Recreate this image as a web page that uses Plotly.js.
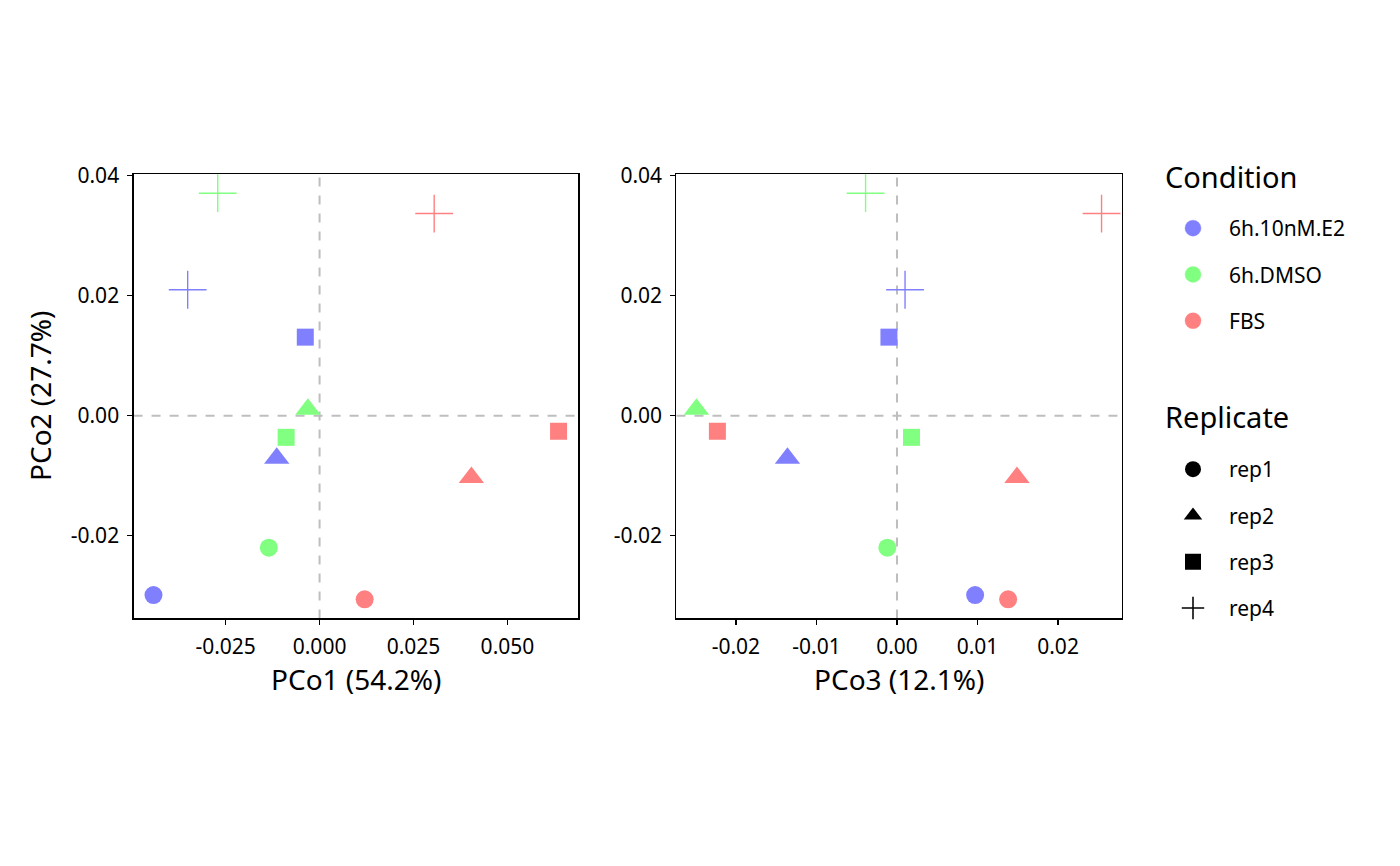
<!DOCTYPE html>
<html>
<head>
<meta charset="utf-8">
<script src="https://cdn.plot.ly/plotly-3.0.1.min.js"></script>
<style>
  html, body { margin: 0; padding: 0; background: #fff; }
  #pcoa { width: 1400px; height: 866px; }
</style>
</head>
<body>
<div id="pcoa"></div>
<script>
// sample groups
const conditions = ["6h.10nM.E2", "6h.DMSO", "FBS"];
const replicates = ["rep1", "rep2", "rep3", "rep4"];

// ordination scores, rep1..rep4 per condition
const pco1E2 = [-0.0442, -0.0114, -0.0038, -0.0351];
const pco2E2 = [-0.0299, -0.0071, 0.0131, 0.0210];
const pco3E2 = [0.0097, -0.0136, -0.0010, 0.0010];

const pco1DMSO = [-0.0135, -0.0031, -0.0089, -0.0271];
const pco2DMSO = [-0.0220, 0.0011, -0.0036, 0.0371];
const pco3DMSO = [-0.0012, -0.0249, 0.0018, -0.0039];

const pco1FBS = [0.0120, 0.0404, 0.0636, 0.0305];
const pco2FBS = [-0.0306, -0.0103, -0.0026, 0.0337];
const pco3FBS = [0.0138, 0.0149, -0.0223, 0.0254];

const yTicks = [-0.02, 0.00, 0.02, 0.04];
const yTickText = ["-0.02", "0.00", "0.02", "0.04"];
const x1Ticks = [-0.025, 0, 0.025, 0.05];
const x1TickText = ["-0.025", "0.000", "0.025", "0.050"];
const x2Ticks = [-0.02, -0.01, 0, 0.01, 0.02];
const x2TickText = ["-0.02", "-0.01", "0.00", "0.01", "0.02"];

const colors = ["#8080FF", "#80FF80", "#FF8080"];
const symbols = ["circle", "triangle-up", "square", "cross-thin-open"];
const sizes = [18, 22, 17, 27];
const lineWidths = [0, 0, 0, 1.4];

const groups = [
  { pco1: pco1E2, pco2: pco2E2, pco3: pco3E2 },
  { pco1: pco1DMSO, pco2: pco2DMSO, pco3: pco3DMSO },
  { pco1: pco1FBS, pco2: pco2FBS, pco3: pco3FBS },
];

const FONT = "Noto Sans, Open Sans, sans-serif";
const traces = [];

groups.forEach((g, i) => {
  const marker = {
    color: colors[i],
    opacity: 1,
    symbol: symbols,
    size: sizes,
    line: { color: colors[i], width: lineWidths },
  };
  traces.push({
    type: "scatter", mode: "markers",
    x: g.pco1, y: g.pco2, xaxis: "x", yaxis: "y",
    name: conditions[i], legend: "legend", legendgroup: "c" + i,
    text: replicates, hoverinfo: "text+x+y",
    marker: marker,
  });
  traces.push({
    type: "scatter", mode: "markers",
    x: g.pco3, y: g.pco2, xaxis: "x2", yaxis: "y2",
    name: conditions[i], showlegend: false,
    text: replicates, hoverinfo: "text+x+y",
    marker: marker,
  });
});

// legend-only keys for replicate shapes (black)
replicates.forEach((r, j) => {
  traces.push({
    type: "scatter", mode: "markers",
    x: [null], y: [null], xaxis: "x", yaxis: "y",
    name: r, legend: "legend2", legendgroup: "r" + j,
    marker: {
      color: "black", symbol: symbols[j], size: 16, opacity: 1,
      line: { color: "black", width: lineWidths[j] * 1.1 },
    },
  });
});

const axisCommon = {
  showgrid: false, zeroline: false,
  showline: true, mirror: true, linecolor: "black", linewidth: 1.2,
  ticks: "outside", ticklen: 5, tickwidth: 1.2, tickcolor: "black",
  ticklabelstandoff: 4,
  tickfont: { family: FONT, size: 21, color: "black" },
  tickmode: "array",
};

const zeroLine = { color: "#BEBEBE", width: 2, dash: "dash" };
const titleFont = { family: FONT, size: 28, color: "black" };

// axis titles and legend headings placed as paper annotations
function label(text, x, y, extra) {
  return Object.assign({
    text: text, xref: "paper", yref: "paper", x: x / 1400, y: 1 - y / 866,
    xanchor: "center", yanchor: "middle", showarrow: false, font: titleFont,
    borderpad: 0,
  }, extra || {});
}

const layout = {
  width: 1400, height: 866,
  paper_bgcolor: "white", plot_bgcolor: "white",
  margin: { l: 0, r: 0, t: 0, b: 0 },
  font: { family: FONT, color: "black" },
  showlegend: true,
  xaxis: Object.assign({}, axisCommon, {
    domain: [0.0954, 0.4132], range: [-0.0495, 0.0689],
    tickvals: x1Ticks, ticktext: x1TickText, anchor: "y",
  }),
  yaxis: Object.assign({}, axisCommon, {
    domain: [0.2858, 0.7991], range: [-0.0338, 0.0403],
    tickvals: yTicks, ticktext: yTickText, anchor: "x",
  }),
  xaxis2: Object.assign({}, axisCommon, {
    domain: [0.4832, 0.8012], range: [-0.02738, 0.0279],
    tickvals: x2Ticks, ticktext: x2TickText, anchor: "y2",
  }),
  yaxis2: Object.assign({}, axisCommon, {
    domain: [0.2858, 0.7991], range: [-0.0338, 0.0403],
    tickvals: yTicks, ticktext: yTickText, anchor: "x2",
  }),
  shapes: [
    { type: "line", xref: "x", yref: "y domain", x0: 0, x1: 0, y0: 0, y1: 1, line: zeroLine, layer: "below" },
    { type: "line", xref: "x domain", yref: "y", x0: 0, x1: 1, y0: 0, y1: 0, line: zeroLine, layer: "below" },
    { type: "line", xref: "x2", yref: "y2 domain", x0: 0, x1: 0, y0: 0, y1: 1, line: zeroLine, layer: "below" },
    { type: "line", xref: "x2 domain", yref: "y2", x0: 0, x1: 1, y0: 0, y1: 0, line: zeroLine, layer: "below" },
  ],
  annotations: [
    label("PCo1 (54.2%)", 356, 679),
    label("PCo3 (12.1%)", 899.5, 679),
    label("PCo2 (27.7%)", 40, 396, { textangle: -90 }),
    label("Condition", 1164, 176, { xanchor: "left", font: { family: FONT, size: 29, color: "black" } }),
    label("Replicate", 1164, 416, { xanchor: "left", font: { family: FONT, size: 29, color: "black" } }),
  ],
  legend: {
    font: { family: FONT, size: 21, color: "black" },
    x: 1157 / 1400, xanchor: "left", y: 1 - 208 / 866, yanchor: "top",
    bgcolor: "rgba(0,0,0,0)", tracegroupgap: 16, itemwidth: 62,
  },
  legend2: {
    font: { family: FONT, size: 21, color: "black" },
    x: 1157 / 1400, xanchor: "left", y: 1 - 449 / 866, yanchor: "top",
    bgcolor: "rgba(0,0,0,0)", tracegroupgap: 16, itemwidth: 62,
  },
};

Plotly.newPlot("pcoa", traces, layout, { displayModeBar: false, staticPlot: true });
</script>
</body>
</html>
